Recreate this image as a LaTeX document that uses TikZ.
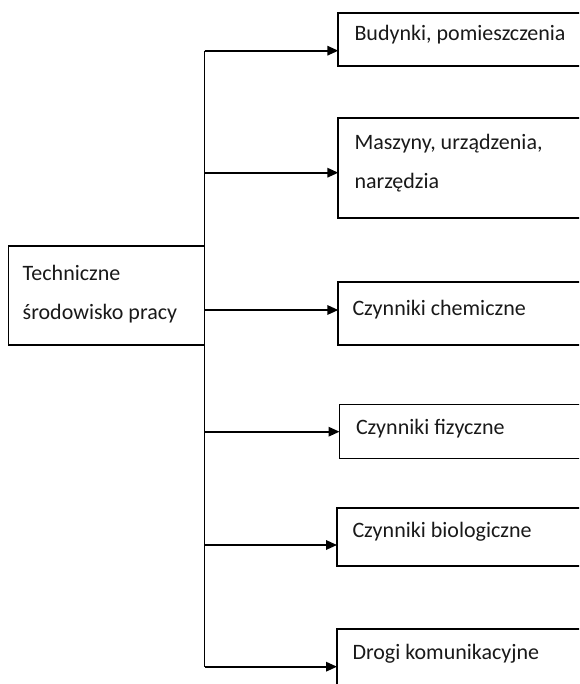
\documentclass[tikz,border=0pt]{standalone}
\usepackage{fontspec}
\setmainfont{Carlito}
\usetikzlibrary{arrows.meta}
\begin{document}
\begin{tikzpicture}[x=1pt,y=-1pt,
  box/.style={draw=black,line width=1.7pt,rectangle,inner sep=0pt,outer sep=0pt,anchor=north west},
  lbl/.style={inner sep=0pt,outer sep=0pt,anchor=base west,align=left,font=\fontsize{22}{39.5}\selectfont,text=black!90},
  link/.style={line width=1.7pt,draw=black},
  arr/.style={link,-{Triangle[length=11pt,width=9.5pt]}}]
\useasboundingbox (0,0) rectangle (579,684);
\clip (0,0) rectangle (579,684);
% boxes
\node[box,minimum width=196pt,minimum height=99pt] (main) at (8.5,246) {};
\node[box,minimum width=260pt,minimum height=52.7pt] (b1) at (338.3,13.3) {};
\node[box,minimum width=260pt,minimum height=100.6pt] (b2) at (338.3,117.7) {};
\node[box,minimum width=260pt,minimum height=63pt] (b3) at (338.3,282) {};
\node[box,minimum width=260pt,minimum height=54pt] (b4) at (339.5,404.5) {};
\node[box,minimum width=260pt,minimum height=57.7pt] (b5) at (337,508.3) {};
\node[box,minimum width=260pt,minimum height=80pt] (b6) at (337,629.3) {};
% texts (multi-line nodes anchored at the baseline of their last line)
\node[lbl] (tmain) at (22.7,319.5) {Techniczne\\środowisko pracy};
\node[lbl] (t1) at (354.5,40.5) {Budynki, pomieszczenia};
\node[lbl] (t2) at (354.5,189) {Maszyny, urządzenia,\\narzędzia};
\node[lbl] (t3) at (352.5,315) {Czynniki chemiczne};
\node[lbl] (t4) at (356,434) {Czynniki fizyczne};
\node[lbl] (t5) at (352.5,537) {Czynniki biologiczne};
\node[lbl] (t6) at (352.5,659) {Drogi komunikacyjne};
% trunk junctions
\coordinate (j1) at (204.5,50.7);
\coordinate (j2) at (204.5,172.7);
\coordinate (j3) at (204.5,310);
\coordinate (j4) at (204.5,431.7);
\coordinate (j5) at (204.5,545);
\coordinate (j6) at (204.5,666.7);
\draw[link] (j1) -- (main.north east);
\draw[link] (main.south east) -- (j6);
\draw[arr] (j1) -- (j1 -| b1.west);
\draw[arr] (j2) -- (j2 -| b2.west);
\draw[arr] (j3) -- (j3 -| b3.west);
\draw[arr] (j4) -- (j4 -| b4.west);
\draw[arr] (j5) -- (j5 -| b5.west);
\draw[arr] (j6) -- (j6 -| b6.west);
\end{tikzpicture}
\end{document}
